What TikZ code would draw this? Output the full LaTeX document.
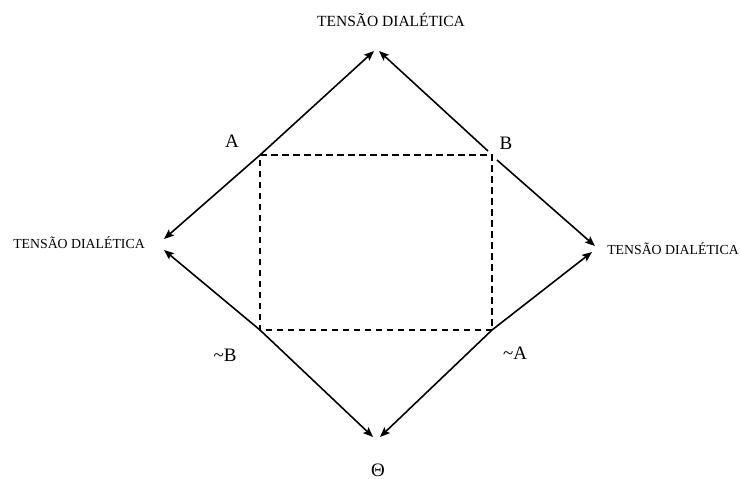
\documentclass[tikz,border=0pt]{standalone}
\usepackage{fontspec}
\setmainfont{Liberation Serif}
\usetikzlibrary{arrows.meta}
\begin{document}
\begin{tikzpicture}[x=1pt,y=-1pt,
  arr/.style={line width=1.6pt,-{Stealth[length=10pt,width=8pt,inset=2pt]}},
  dsh/.style={line width=1.4pt,dash pattern=on 6.5pt off 4.5pt},
  tens/.style={font=\fontsize{15.5}{17}\selectfont,inner sep=0pt},
  tensb/.style={font=\fontsize{13.8}{16}\selectfont,inner sep=0pt},
  lab/.style={font=\fontsize{19}{21}\selectfont,inner sep=0pt}]
\useasboundingbox (0,0) rectangle (740,479);
\fill[white] (0,0) rectangle (740,479);
% labels
\node[tens] (ttop) at (391,20) {TENSÃO DIALÉTICA};
\node[tensb] (tleft) at (79,243) {TENSÃO DIALÉTICA};
\node[tensb] (tright) at (673,249) {TENSÃO DIALÉTICA};
\node[lab] (la) at (232,141) {A};
\node[lab] (lb) at (506,143) {B};
\node[lab] (lnb) at (225,355) {\textasciitilde B};
\node[lab] (lna) at (515,353) {\textasciitilde A};
\node[lab] (lth) at (378,470) {Θ};
% corners
\coordinate (ca) at (260,155);
\coordinate (cb) at (492,155);
\coordinate (cnb) at (260,330);
\coordinate (cna) at (492,330);
\coordinate (cbu) at (488,151);
\coordinate (cbd) at (497,160);
% tips
\coordinate (t1) at (374,51);
\coordinate (t2) at (379,51);
\coordinate (l1) at (164,239);
\coordinate (l2) at (164,250);
\coordinate (r1) at (595,246);
\coordinate (r2) at (592,252);
\coordinate (b1) at (373,437);
\coordinate (b2) at (380,437);
% dashed rectangle
\draw[dsh] (ca) -- (cb) -- (cna) -- (cnb) -- cycle;
% arrows
\draw[arr] (ca) -- (t1);
\draw[arr] (ca) -- (l1);
\draw[arr] (cbu) -- (t2);
\draw[arr] (cbd) -- (r1);
\draw[arr] (cnb) -- (l2);
\draw[arr] (cnb) -- (b1);
\draw[arr] (cna) -- (r2);
\draw[arr] (cna) -- (b2);
\end{tikzpicture}
\end{document}
